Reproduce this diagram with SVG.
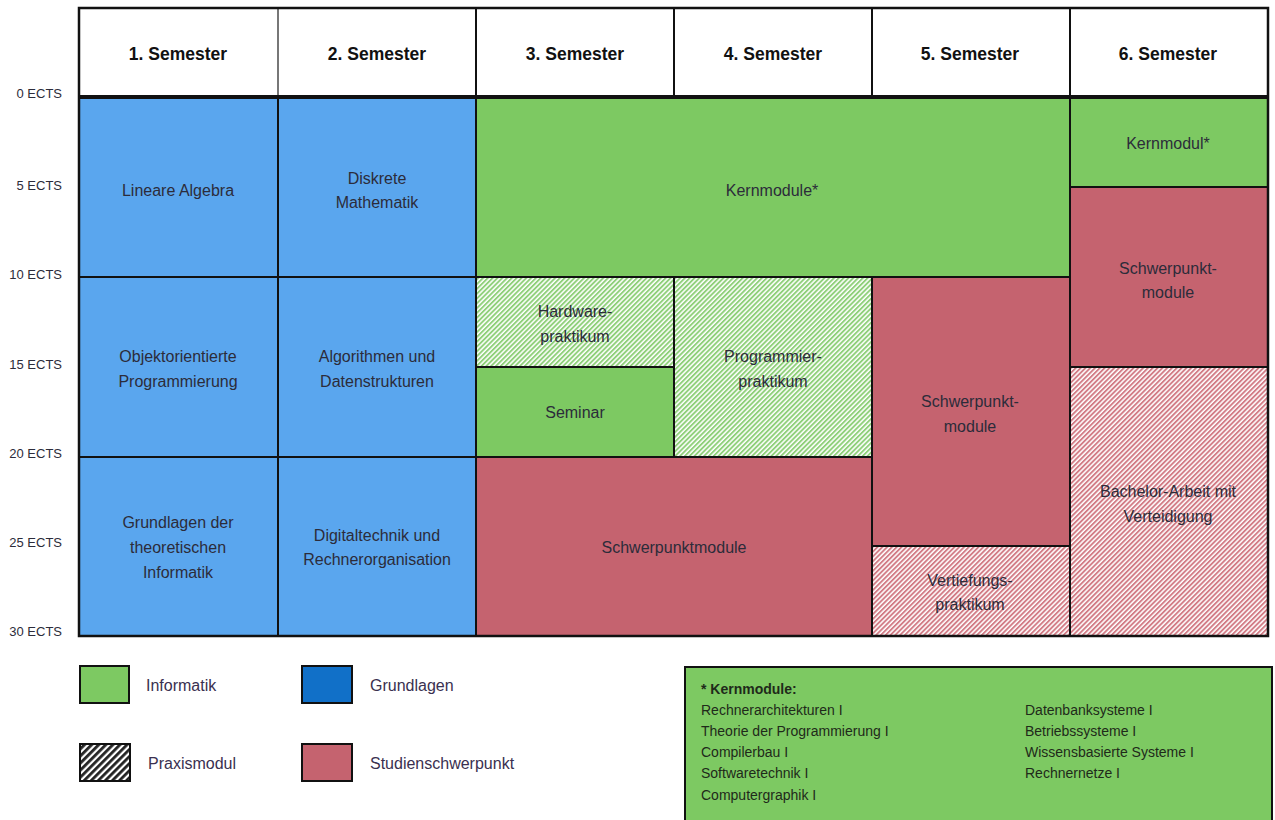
<svg xmlns="http://www.w3.org/2000/svg" width="1275" height="820" viewBox="0 0 1275 820">
  <defs>
    <pattern id="hatchGreen" patternUnits="userSpaceOnUse" width="3.4" height="3.4" patternTransform="rotate(45)">
      <rect width="3.4" height="3.4" fill="#ffffff"/>
      <rect width="1.9" height="3.4" fill="#8fd07a"/>
    </pattern>
    <pattern id="hatchRed" patternUnits="userSpaceOnUse" width="3.4" height="3.4" patternTransform="rotate(45)">
      <rect width="3.4" height="3.4" fill="#ffffff"/>
      <rect width="1.9" height="3.4" fill="#d27c86"/>
    </pattern>
    <pattern id="hatchBlack" patternUnits="userSpaceOnUse" width="5" height="5" patternTransform="rotate(45)">
      <rect width="5" height="5" fill="#ffffff"/>
      <rect width="2.8" height="5" fill="#222222"/>
    </pattern>
    <style>
      .blk { stroke: #111; stroke-width: 2; }
      .blue { fill: #5aa6ee; }
      .green { fill: #7dc962; }
      .red { fill: #c5636f; }
      .hg { fill: url(#hatchGreen); }
      .hr { fill: url(#hatchRed); }
      .lbl { font-family: "Liberation Sans", Arial, sans-serif; font-size: 16px; fill: #2c2c3a; text-anchor: middle; }
      .head { font-family: "Liberation Sans", Arial, sans-serif; font-size: 17.5px; font-weight: bold; fill: #111; text-anchor: middle; }
      .ects { font-family: "Liberation Sans", Arial, sans-serif; font-size: 13px; fill: #2c2c3a; text-anchor: end; }
      .leg { font-family: "Liberation Sans", Arial, sans-serif; font-size: 16px; fill: #3a3050; }
      .km { font-family: "Liberation Sans", Arial, sans-serif; font-size: 14px; fill: #1f2a1a; }
    </style>
  </defs>

  <rect width="1275" height="820" fill="#ffffff"/>

  <!-- header row -->
  <g id="header">
    <rect x="79" y="8" width="1189" height="89" fill="#ffffff" stroke="#111" stroke-width="2"/>
    <line x1="278" y1="8" x2="278" y2="97" stroke="#777" stroke-width="2"/>
    <line x1="476" y1="8" x2="476" y2="97" stroke="#111" stroke-width="2"/>
    <line x1="674" y1="8" x2="674" y2="97" stroke="#111" stroke-width="2"/>
    <line x1="872" y1="8" x2="872" y2="97" stroke="#111" stroke-width="2"/>
    <line x1="1070" y1="8" x2="1070" y2="97" stroke="#111" stroke-width="2"/>
    <text class="head" x="178" y="60">1. Semester</text>
    <text class="head" x="377" y="60">2. Semester</text>
    <text class="head" x="575" y="60">3. Semester</text>
    <text class="head" x="773" y="60">4. Semester</text>
    <text class="head" x="970" y="60">5. Semester</text>
    <text class="head" x="1168" y="60">6. Semester</text>
  </g>

  <!-- ECTS scale -->
  <g id="scale">
    <text class="ects" x="62" y="98">0 ECTS</text>
    <text class="ects" x="62" y="190">5 ECTS</text>
    <text class="ects" x="62" y="279">10 ECTS</text>
    <text class="ects" x="62" y="369">15 ECTS</text>
    <text class="ects" x="62" y="458">20 ECTS</text>
    <text class="ects" x="62" y="547">25 ECTS</text>
    <text class="ects" x="62" y="636">30 ECTS</text>
  </g>

  <!-- semester 1 -->
  <g id="lineare-algebra">
    <rect class="blue blk" x="79" y="97" width="199" height="180"/>
    <text class="lbl" x="178" y="196">Lineare Algebra</text>
  </g>
  <g id="oop">
    <rect class="blue blk" x="79" y="277" width="199" height="180"/>
    <text class="lbl" x="178" y="362">Objektorientierte</text>
    <text class="lbl" x="178" y="387">Programmierung</text>
  </g>
  <g id="theo">
    <rect class="blue blk" x="79" y="457" width="199" height="179"/>
    <text class="lbl" x="178" y="528">Grundlagen der</text>
    <text class="lbl" x="178" y="553">theoretischen</text>
    <text class="lbl" x="178" y="578">Informatik</text>
  </g>

  <!-- semester 2 -->
  <g id="diskrete-mathematik">
    <rect class="blue blk" x="278" y="97" width="198" height="180"/>
    <text class="lbl" x="377" y="184">Diskrete</text>
    <text class="lbl" x="377" y="208">Mathematik</text>
  </g>
  <g id="algorithmen">
    <rect class="blue blk" x="278" y="277" width="198" height="180"/>
    <text class="lbl" x="377" y="362">Algorithmen und</text>
    <text class="lbl" x="377" y="387">Datenstrukturen</text>
  </g>
  <g id="digitaltechnik">
    <rect class="blue blk" x="278" y="457" width="198" height="179"/>
    <text class="lbl" x="377" y="541">Digitaltechnik und</text>
    <text class="lbl" x="377" y="565">Rechnerorganisation</text>
  </g>

  <!-- semesters 3 to 5 -->
  <g id="kernmodule">
    <rect class="green blk" x="476" y="97" width="594" height="180"/>
    <text class="lbl" x="772" y="196">Kernmodule*</text>
  </g>
  <g id="hardwarepraktikum">
    <rect class="hg blk" x="476" y="277" width="198" height="90"/>
    <text class="lbl" x="575" y="317">Hardware-</text>
    <text class="lbl" x="575" y="342">praktikum</text>
  </g>
  <g id="seminar">
    <rect class="green blk" x="476" y="367" width="198" height="90"/>
    <text class="lbl" x="575" y="418">Seminar</text>
  </g>
  <g id="programmierpraktikum">
    <rect class="hg blk" x="674" y="277" width="198" height="180"/>
    <text class="lbl" x="773" y="362">Programmier-</text>
    <text class="lbl" x="773" y="387">praktikum</text>
  </g>
  <g id="schwerpunktmodule">
    <rect class="red blk" x="476" y="457" width="396" height="179"/>
    <text class="lbl" x="674" y="553">Schwerpunktmodule</text>
  </g>
  <g id="schwerpunkt-5">
    <rect class="red blk" x="872" y="277" width="198" height="269"/>
    <text class="lbl" x="970" y="407">Schwerpunkt-</text>
    <text class="lbl" x="970" y="432">module</text>
  </g>
  <g id="vertiefungspraktikum">
    <rect class="hr blk" x="872" y="546" width="198" height="90"/>
    <text class="lbl" x="970" y="586">Vertiefungs-</text>
    <text class="lbl" x="970" y="610">praktikum</text>
  </g>

  <!-- semester 6 -->
  <g id="kernmodul-6">
    <rect class="green blk" x="1070" y="97" width="198" height="90"/>
    <text class="lbl" x="1168" y="149">Kernmodul*</text>
  </g>
  <g id="schwerpunkt-6">
    <rect class="red blk" x="1070" y="187" width="198" height="180"/>
    <text class="lbl" x="1168" y="274">Schwerpunkt-</text>
    <text class="lbl" x="1168" y="298">module</text>
  </g>
  <g id="bachelorarbeit">
    <rect class="hr blk" x="1070" y="367" width="198" height="269"/>
    <text class="lbl" x="1168" y="497">Bachelor-Arbeit mit</text>
    <text class="lbl" x="1168" y="522">Verteidigung</text>
  </g>

  <!-- frame lines -->
  <g id="frame">
    <line x1="79" y1="97" x2="1268" y2="97" stroke="#111" stroke-width="4"/>
    <rect x="79" y="8" width="1189" height="628" fill="none" stroke="#111" stroke-width="2.5"/>
  </g>

  <!-- legend -->
  <g id="legend">
    <rect x="80" y="666" width="49" height="37" fill="#7dc962" stroke="#111" stroke-width="2"/>
    <text class="leg" x="146" y="691">Informatik</text>
    <rect x="302" y="666" width="50" height="37" fill="#1170c8" stroke="#111" stroke-width="2"/>
    <text class="leg" x="370" y="691">Grundlagen</text>
    <rect x="80" y="744" width="50" height="37" fill="url(#hatchBlack)" stroke="#111" stroke-width="2"/>
    <text class="leg" x="148" y="769">Praxismodul</text>
    <rect x="302" y="744" width="50" height="37" fill="#c5636f" stroke="#111" stroke-width="2"/>
    <text class="leg" x="370" y="769">Studienschwerpunkt</text>
  </g>

  <!-- list of core modules -->
  <g id="kernmodule-liste">
    <rect x="685" y="667" width="587" height="155" fill="#7dc962" stroke="#111" stroke-width="2"/>
    <text class="km" x="701" y="694" font-weight="bold" fill="#111">* Kernmodule:</text>
    <text class="km" x="701" y="715">Rechnerarchitekturen I</text>
    <text class="km" x="701" y="736">Theorie der Programmierung I</text>
    <text class="km" x="701" y="757">Compilerbau I</text>
    <text class="km" x="701" y="778">Softwaretechnik I</text>
    <text class="km" x="701" y="800">Computergraphik I</text>
    <text class="km" x="1025" y="715">Datenbanksysteme I</text>
    <text class="km" x="1025" y="736">Betriebssysteme I</text>
    <text class="km" x="1025" y="757">Wissensbasierte Systeme I</text>
    <text class="km" x="1025" y="778">Rechnernetze I</text>
  </g>
</svg>
